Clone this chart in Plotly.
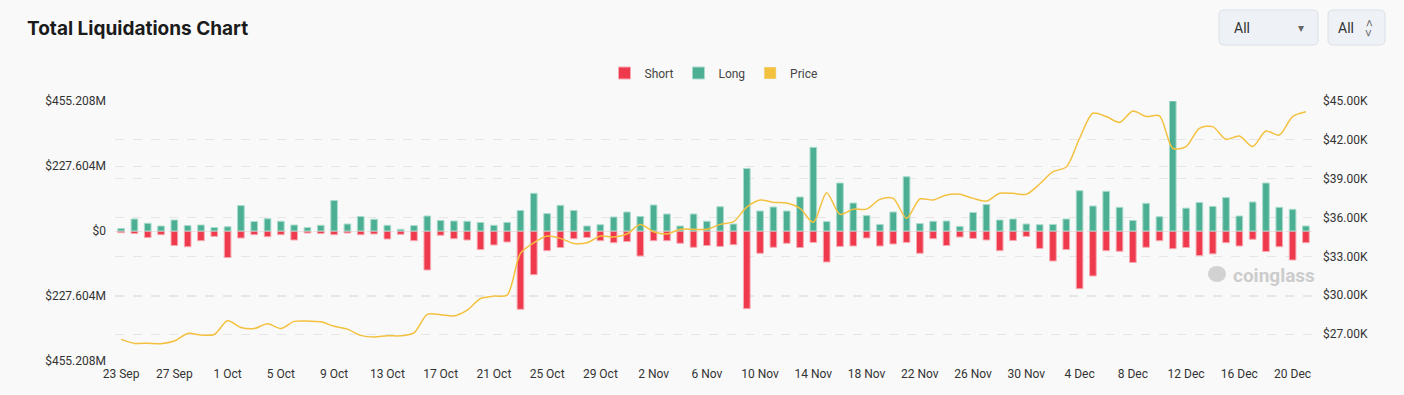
import pandas as pd
import plotly.graph_objects as go

# ---------------- data ----------------
dates = pd.date_range("2023-09-23", "2023-12-21", freq="D")

long_m = [9, 42, 27, 17.5, 38.5, 19, 21, 12, 15, 89, 33, 43, 34, 21, 12, 20, 107, 24.5, 51, 41, 20, 6, 19, 52.5,
          37, 35, 34, 30, 20, 30, 72, 132, 61, 90, 72, 17.5, 22, 49, 66.5, 51, 91, 59.5, 17.5, 59.5, 34, 85, 24.5, 219,
          70, 84, 70, 119, 293, 33, 168, 98, 54, 23, 66.5, 190, 26, 34, 35, 16, 65, 93, 38.5, 42, 24.5, 22, 23, 42,
          141, 87.5, 139, 83, 37, 97, 50, 455.208, 80, 100, 86, 117, 52.5, 101.5, 168, 83, 76, 17.5]

short_m = [6, 9, 23, 13, 51, 55, 34, 19, 93, 24.5, 13, 20, 13, 31.5, 7, 9, 13, 7, 13, 10.5, 28, 11.7, 34, 136.5,
           15, 27, 31.5, 65, 49, 38.5, 274, 153, 69, 58, 27, 23, 34, 41, 37, 87.5, 34, 34, 43, 57, 51, 54, 48, 272,
           78, 57, 43, 58, 40, 108.5, 54, 52.5, 24.5, 52.5, 45.5, 40, 78, 27, 51, 21, 26, 31.5, 69, 33, 19, 61, 105, 65,
           202, 157.5, 69, 71, 110, 57, 34, 62, 58, 86, 80, 41, 52.5, 29, 72, 55, 101.5, 41]

price_k = [26.59, 26.28, 26.3, 26.26, 26.46, 27.05, 26.92, 26.97, 28.03, 27.51, 27.43, 27.8, 27.43, 27.98, 28.0, 27.95,
           27.6, 27.38, 26.9, 26.77, 26.87, 26.87, 27.1, 28.52,
           28.5, 28.4, 28.85, 29.75, 29.93, 30.01, 33.23, 34.05, 34.57, 34.39, 34.0, 34.05, 34.57, 34.5, 34.73, 35.47,
           34.9, 34.73, 35.09, 35.09, 35.09, 35.47, 35.68, 36.8,
           37.35, 37.17, 37.12, 36.7, 35.63, 37.92, 36.25, 36.65, 36.65, 37.4, 37.48, 35.94, 37.43, 37.35, 37.74, 37.79,
           37.48, 37.27, 37.87, 37.87, 37.79, 38.59, 39.54, 39.9,
           42.12, 44.05, 43.8, 43.35, 44.23, 43.8, 43.85, 41.35, 41.48, 42.89, 43.02, 42.04, 42.3, 41.48, 42.68, 42.37,
           43.8, 44.17]

short_neg = [-v for v in short_m]

left_ticks = [-455.208, -227.604, 0, 227.604, 455.208]
left_text = ["$455.208M", "$227.604M", "$0", "$227.604M", "$455.208M"]
right_ticks = [27, 30, 33, 36, 39, 42, 45]
right_text = [f"${v:.2f}K" for v in right_ticks]
x_ticks = dates[::4]

# ---------------- style ----------------
RED = "#ee3a4c"
GREEN = "#4caf94"
YELLOW = "#f4c13f"
BG = "#f9f9f9"
FONT = "Roboto, 'Noto Sans', sans-serif"

W, H = 1404, 395
L, R, T, B = 115, 1312, 101, 361


def px(x):
    return (x - L) / (R - L)


def py(y):
    return (B - y) / (B - T)


def rrect(x0, y0, x1, y1, r):
    pts = []
    pts.append(f"M {px(x0 + r)},{py(y0)}")
    pts.append(f"L {px(x1 - r)},{py(y0)}")
    pts.append(f"Q {px(x1)},{py(y0)} {px(x1)},{py(y0 + r)}")
    pts.append(f"L {px(x1)},{py(y1 - r)}")
    pts.append(f"Q {px(x1)},{py(y1)} {px(x1 - r)},{py(y1)}")
    pts.append(f"L {px(x0 + r)},{py(y1)}")
    pts.append(f"Q {px(x0)},{py(y1)} {px(x0)},{py(y1 - r)}")
    pts.append(f"L {px(x0)},{py(y0 + r)}")
    pts.append(f"Q {px(x0)},{py(y0)} {px(x0 + r)},{py(y0)} Z")
    return " ".join(pts)


bar_w = 0.5 * 86400000

fig = go.Figure()
fig.add_trace(go.Bar(x=dates, y=short_neg, name="Short", width=bar_w,
                     marker=dict(color=RED, line=dict(color="#f7aab2", width=1))))
fig.add_trace(go.Bar(x=dates, y=long_m, name="Long", width=bar_w,
                     marker=dict(color=GREEN, line=dict(color="#a9dccd", width=1))))
# legend-only entry so the Price key is drawn as a square like the original
fig.add_trace(go.Bar(x=[dates[0]], y=[None], name="Price", marker=dict(color=YELLOW), width=bar_w))
fig.add_trace(go.Scatter(x=dates, y=price_k, name="Price", yaxis="y2", mode="lines",
                         line=dict(color=YELLOW, width=1.5, shape="spline", smoothing=0.8),
                         showlegend=False))

shapes = [
    dict(type="path", xref="paper", yref="paper", path=rrect(1219, 10, 1318, 45, 5),
         fillcolor="#eef1f5", line=dict(color="#dbe1e8", width=1), layer="above"),
    dict(type="path", xref="paper", yref="paper", path=rrect(1328, 10, 1385, 45, 5),
         fillcolor="#eef1f5", line=dict(color="#dbe1e8", width=1), layer="above"),
    dict(type="circle", xref="paper", yref="paper", x0=px(1208), x1=px(1226), y0=py(282), y1=py(266),
         fillcolor="#d2d2d2", line=dict(width=0)),
]

annotations = [
    dict(text="<b>Total Liquidations Chart</b>", x=px(25), y=py(28), xref="paper", yref="paper",
         xanchor="left", yanchor="middle", showarrow=False,
         font=dict(family="Inter, 'Noto Sans', sans-serif", size=19, color="#1b1b1b")),
    dict(text="All", x=px(1232), y=py(28), xref="paper", yref="paper", xanchor="left", yanchor="middle",
         showarrow=False, font=dict(family=FONT, size=14, color="#333")),
    dict(text="▾", x=px(1301), y=py(28), xref="paper", yref="paper", xanchor="center", yanchor="middle",
         showarrow=False, font=dict(family="DejaVu Sans", size=12, color="#666")),
    dict(text="All", x=px(1336), y=py(28), xref="paper", yref="paper", xanchor="left", yanchor="middle",
         showarrow=False, font=dict(family=FONT, size=14, color="#333")),
    dict(text="<", x=px(1369), y=py(23), xref="paper", yref="paper", xanchor="center", yanchor="middle",
         textangle=90, showarrow=False, font=dict(family="DejaVu Sans", size=10, color="#666")),
    dict(text=">", x=px(1369), y=py(33), xref="paper", yref="paper", xanchor="center", yanchor="middle",
         textangle=90, showarrow=False, font=dict(family="DejaVu Sans", size=10, color="#666")),
    dict(text="<b>coinglass</b>", x=px(1231), y=py(275), xref="paper", yref="paper", xanchor="left",
         yanchor="middle", showarrow=False, font=dict(family=FONT, size=19, color="#cccccc")),
]

fig.update_layout(
    width=W, height=H,
    paper_bgcolor=BG, plot_bgcolor=BG,
    margin=dict(l=L, r=W - R, t=T, b=H - B, pad=0),
    barmode="relative",
    bargap=0.5,
    font=dict(family=FONT, size=12, color="#333"),
    showlegend=True,
    legend=dict(orientation="h", x=0.5, xanchor="center", y=py(73), yanchor="middle",
                font=dict(family=FONT, size=12, color="#444"), itemwidth=30, bgcolor="rgba(0,0,0,0)",
                traceorder="normal"),
    xaxis=dict(type="date",
               range=[dates[0] - pd.Timedelta(hours=11), dates[-1] + pd.Timedelta(hours=11)],
               tickvals=x_ticks, tickformat="%-d %b", showgrid=False, zeroline=False,
               showline=False, ticks="", ticklabelstandoff=4,
               tickfont=dict(family=FONT, size=12, color="#333")),
    yaxis=dict(range=[-455.208, 455.208], tickvals=left_ticks, ticktext=left_text,
               showgrid=True, gridcolor="#e6e6e6", griddash="dash", gridwidth=1,
               zeroline=False, showline=False, ticks="", ticklabelstandoff=8,
               tickfont=dict(family=FONT, size=12, color="#333")),
    yaxis2=dict(range=[24.92, 45], tickvals=right_ticks, ticktext=right_text, overlaying="y", side="right",
                showgrid=True, gridcolor="#e6e6e6", griddash="dash", gridwidth=1,
                zeroline=False, showline=False, ticks="", ticklabelstandoff=10,
                tickfont=dict(family=FONT, size=12, color="#333")),
    shapes=shapes,
    annotations=annotations,
)

fig.write_html("out.html",
               config={"displayModeBar": False},
               post_script="document.body.style.margin='0';document.body.style.background='%s';" % BG)
